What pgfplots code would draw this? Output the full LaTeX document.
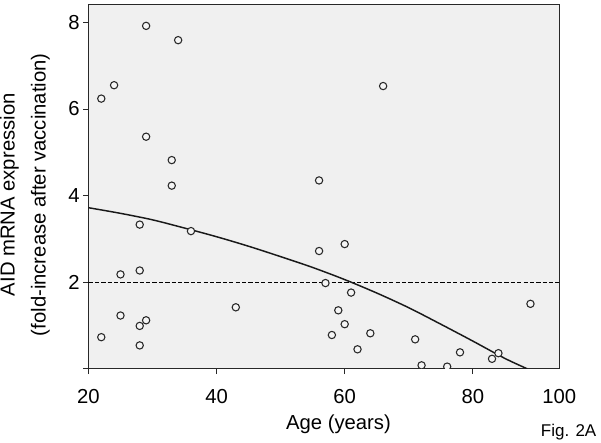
\documentclass[border=0pt]{standalone}
\usepackage{fontspec}
\setmainfont{Liberation Sans}
\usepackage{pgfplots}
\pgfplotsset{compat=1.18}

\definecolor{panel}{RGB}{240,240,240}
\definecolor{frame}{RGB}{40,40,40}

\newcommand{\lblfont}{\fontsize{15.2}{23.3}\selectfont}

\begin{document}
\begin{tikzpicture}
\begin{axis}[
    scale only axis,
    width=353.25pt, height=273.2pt,
    xmin=20, xmax=93.5,
    ymin=0, ymax=8.41,
    axis background/.style={fill=panel},
    axis line style={draw=frame, line width=0.75pt},
    tick style={draw=frame, line width=0.75pt},
    tick align=outside,
    major tick length=4pt,
    xtick={20,40,60,80},
    extra x ticks={93.5},
    extra x tick labels={100},
    extra x tick style={major tick length=0pt,
        xticklabel style={yshift=-4pt}},
    ytick={0,2,4,6,8},
    yticklabels={,2,4,6,8},
    xtick pos=bottom, ytick pos=left,
    /pgf/number format/assume math mode=true,
    ticklabel style={font=\lblfont, inner sep=0pt},
    xticklabel style={anchor=base, yshift=-21.9pt},
    yticklabel style={anchor=east, xshift=-2.4pt},
    xlabel={Age (years)},
    xlabel style={font=\lblfont, inner sep=0pt, anchor=base,
        at={(axis description cs:0.531,0)}, yshift=-45.75pt},
    ylabel={AID mRNA expression\\(fold-increase after vaccination)},
    ylabel style={font=\lblfont, align=center, inner sep=0pt, anchor=south,
        at={(axis description cs:-0.0813,0.478)}, rotate=0},
    clip marker paths=true,
]

% reference line at 2-fold
\addplot[black, line width=0.8pt, dash pattern=on 3.2pt off 1.6pt]
    coordinates {(20,2) (93.5,2)};

% fitted curve
\addplot[black!90, line width=1.1pt, smooth]
    coordinates {(20,3.72) (25,3.59) (30,3.44) (35,3.25) (40,3.05) (45,2.83)
                 (50,2.59) (55,2.34) (60,2.06) (65,1.75) (70,1.41) (75,1.03)
                 (80,0.64) (85,0.24) (88.5,0)};

% samples
\addplot[only marks, mark=*, mark size=2.75pt,
    mark options={draw=frame, fill=white!96!black, line width=0.8pt}]
    coordinates {
    (29,7.92) (34,7.59) (24,6.55) (22,6.24) (29,5.36) (33,4.82) (33,4.23)
    (28,3.33) (36,3.18) (25,2.18) (28,2.27) (43,1.42) (25,1.23) (28,0.99)
    (29,1.12) (22,0.73) (28,0.54)
    (56,4.35) (66,6.53) (56,2.72) (60,2.88) (57,1.98) (61,1.76) (59,1.35)
    (60,1.03) (58,0.78) (64,0.82) (62,0.45) (71,0.68) (72,0.08) (76,0.05)
    (78,0.38) (83,0.23) (84,0.36) (89,1.50)
    };
\end{axis}
\node[font=\fontsize{12.75}{15}\selectfont, inner sep=0pt, anchor=base]
    at ([xshift=7pt, yshift=-51pt]current axis.south east) {Fig. 2A};
\path ([xshift=-66.2pt, yshift=-55.5pt]current axis.south west)
    rectangle ([xshift=31.3pt, yshift=3.5pt]current axis.north east);
\end{tikzpicture}
\end{document}
